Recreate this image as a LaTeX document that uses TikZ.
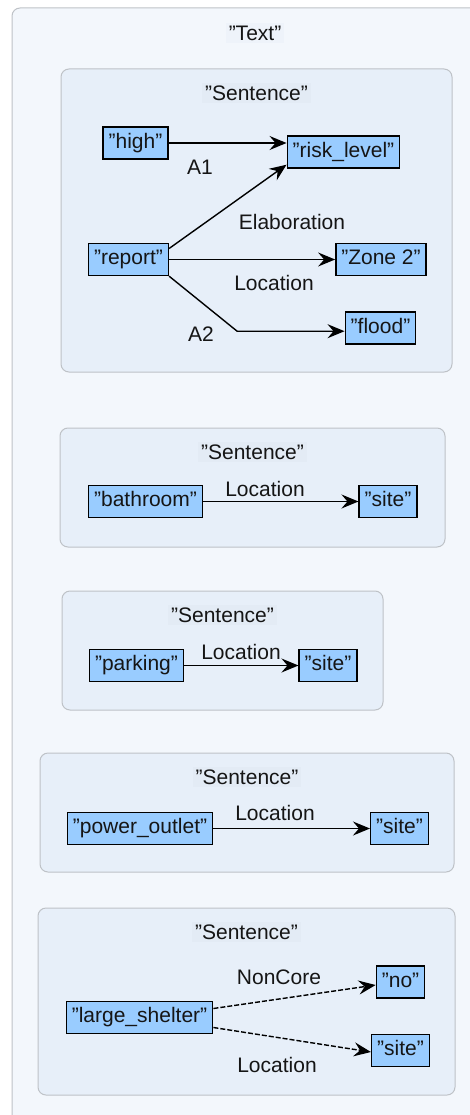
\documentclass[tikz,border=0pt]{standalone}
\usepackage{fontspec}
\setmainfont{Liberation Sans}[Ligatures=ResetAll]
\usetikzlibrary{arrows.meta, positioning}
\definecolor{outerbg}{HTML}{F3F7FC}
\definecolor{sentbg}{HTML}{E7EFF9}
\definecolor{wordbg}{HTML}{99CCFF}
\definecolor{frame}{HTML}{BEC2C7}
\definecolor{ink}{HTML}{151515}
\definecolor{lblbg}{HTML}{E3EBF5}
\definecolor{toplbg}{HTML}{EEF3FA}
% straight double quotes round a word
\newcommand\qt[1]{"#1"}
% one "Sentence" group: corners, then name of its title
\newcommand\sentbox[5]{\draw[sent] (#1,#2) rectangle (#3,#4);
  \node[boxlbl] (#5) at ({(#1+#3)/2},#2+24) {\qt{Sentence}};}

\begin{document}
\begin{tikzpicture}[x=1pt,y=-1pt,font=\fontsize{21}{25}\selectfont,text=ink,
  word/.style={draw=black,line width=1.4pt,fill=wordbg,inner xsep=5.5pt,inner ysep=0pt,
    minimum height=32pt,text height=15pt,text depth=4.5pt},
  rel/.style={-{Stealth[length=17pt,width=14pt,inset=6pt]},line width=1.4pt},
  sent/.style={draw=frame,fill=sentbg,rounded corners=8pt,line width=1pt},
  boxlbl/.style={fill=lblbg,inner sep=3pt},
  elab/.style={inner sep=0pt}]
\clip (0,0) rectangle (470,1115);
\draw[draw=frame,fill=outerbg,rounded corners=8pt,line width=1pt] (12,8) rectangle (520,1160);
\node[fill=toplbg,inner sep=3pt] (text) at (255,33) {\qt{Text}};

% first sentence
\sentbox{61}{69}{452}{372}{s1}
\node[word] (high) at (135.5,143) {\qt{high}};
\node[word] (risk) at (343.5,152) {\qt{risk\_level}};
\node[word] (report) at (128.5,259.5) {\qt{report}};
\node[word] (zone) at (381,259.5) {\qt{Zone 2}};
\node[word] (flood) at (380.5,328) {\qt{flood}};
\draw[rel] (high.east) -- (risk.west |- high.east);
\draw[rel] ([yshift=11pt]report.east) -- ([yshift=4pt]risk.south west);
\draw[rel] (report) -- (zone);
\draw[rel] (report.south east) -- ++(68,55) coordinate (bend) -- (flood.west |- bend);
\node[elab] (a1) at (200,167) {A1};
\node[elab] (elab1) at (292,222) {Elaboration};
\node[elab] (loc1) at (274,283) {Location};
\node[elab] (a2) at (201,334) {A2};

% second sentence
\sentbox{60}{428}{445}{547}{s2}
\node[word] (bath) at (145.5,501.5) {\qt{bathroom}};
\node[word] (site2) at (388,501.5) {\qt{site}};
\draw[rel] (bath) -- (site2);
\node[elab] (loc2) at (265,489) {Location};

% third sentence
\sentbox{62}{591}{383}{710}{s3}
\node[word] (park) at (136.5,665.5) {\qt{parking}};
\node[word] (site3) at (328,665.5) {\qt{site}};
\draw[rel] (park) -- (site3);
\node[elab] (loc3) at (241,652) {Location};

% fourth sentence
\sentbox{40}{753}{454}{872}{s4}
\node[word] (outlet) at (140,828.5) {\qt{power\_outlet}};
\node[word] (site4) at (399.5,828.5) {\qt{site}};
\draw[rel] (outlet) -- (site4);
\node[elab] (loc4) at (275,813) {Location};

% fifth sentence
\sentbox{38}{908}{455}{1095}{s5}
\node[word] (shelter) at (139.5,1017.5) {\qt{large\_shelter}};
\node[word] (no) at (400.5,982) {\qt{no}};
\node[word] (site5) at (400.5,1050.5) {\qt{site}};
\draw[rel,dash pattern=on 5pt off 2pt] ([yshift=9pt]shelter.east) -- ([yshift=-3pt]no.west);
\draw[rel,dash pattern=on 5pt off 2pt] ([yshift=-10pt]shelter.east) -- ([yshift=-1.5pt]site5.west);
\node[elab] (nc5) at (279,977) {NonCore};
\node[elab] (loc5) at (277,1065) {Location};
\end{tikzpicture}
\end{document}
